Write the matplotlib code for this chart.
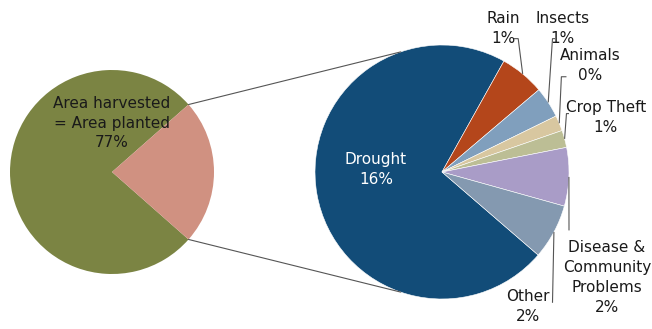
import matplotlib
matplotlib.use("Agg")
import numpy as np
import matplotlib.pyplot as plt
from matplotlib.patches import ConnectionPatch

W, H = 652, 329

# left pie: share of area planted that was harvested
AREA_LABELS = ["Area harvested\n= Area planted", "Area lost"]
AREA_SHARES = [77, 23]
AREA_PCT = ["77%", ""]

# right pie: breakdown of the lost area by cause
CAUSES = ["Drought", "Rain", "Insects", "Animals", "Crop Theft",
          "Disease &\nCommunity\nProblems", "Other"]
CAUSE_SHARES = [16.4, 1.3, 0.9, 0.45, 0.5, 1.7, 1.6]
CAUSE_PCT = ["16%", "1%", "1%", "0%", "1%", "2%", "2%"]

AREA_COLORS = ["#7b8443", "#d09181"]
CAUSE_COLORS = ["#124c78", "#b4461b", "#809fbd", "#d8c7a0",
                "#bcbe95", "#a99cc7", "#8499b0"]

INK = "#1a1a1a"
LEADER = "#555555"
FONT = "DejaVu Sans"
FS = 11
LS = 1.4


def pie_axes(fig, cx, cy, r, half):
    """Axes whose data unit equals r pixels, centred on pixel (cx, cy)."""
    side = 2 * half * r
    ax = fig.add_axes([(cx - half * r) / W, (H - cy - half * r) / H,
                       side / W, side / H])
    ax.set_xlim(-half, half)
    ax.set_ylim(-half, half)
    ax.set_aspect("equal")
    ax.axis("off")
    return ax


fig = plt.figure(figsize=(W / 100, H / 100), dpi=100, facecolor="white")

ax1 = pie_axes(fig, 112, 172, 102, 1.1)
ax2 = pie_axes(fig, 442, 172, 127, 1.75)

lost_frac = AREA_SHARES[1] / sum(AREA_SHARES)
w1, _ = ax1.pie(AREA_SHARES, colors=AREA_COLORS, radius=1,
                startangle=180 * lost_frac, counterclock=True,
                wedgeprops=dict(linewidth=0))
ax1.set_xlim(-1.1, 1.1)
ax1.set_ylim(-1.1, 1.1)
ax1.text(0, 0.48, f"{AREA_LABELS[0]}\n{AREA_PCT[0]}", ha="center", va="center",
         fontsize=FS, color=INK, family=FONT, linespacing=LS)

drought_frac = CAUSE_SHARES[0] / sum(CAUSE_SHARES)
w2, _ = ax2.pie(CAUSE_SHARES, colors=CAUSE_COLORS, radius=1,
                startangle=10 - 180 * (1 - drought_frac), counterclock=False,
                wedgeprops=dict(linewidth=0.4, edgecolor="white"))
ax2.set_xlim(-1.75, 1.75)
ax2.set_ylim(-1.75, 1.75)
ax2.text(-0.52, 0.02, f"{CAUSES[0]}\n{CAUSE_PCT[0]}", ha="center", va="center",
         fontsize=FS, color="white", family=FONT, linespacing=LS)

# outside labels: (text centre, leader elbow, leader tail)
LABEL_POS = {
    "Rain": ((0.48, 1.13), (0.60, 1.05), (0.56, 1.05)),
    "Insects": ((0.95, 1.13), (0.87, 1.05), (0.89, 1.05)),
    "Animals": ((1.17, 0.84), (0.94, 0.75), (0.98, 0.75)),
    "Crop Theft": ((1.29, 0.43), (0.98, 0.46), (1.00, 0.46)),
    "Disease &\nCommunity\nProblems": ((1.30, -0.83), (1.00, -0.46), (1.00, -0.46)),
    "Other": ((0.68, -1.06), (0.87, -1.03), (0.87, -1.03)),
}

for wedge, name, pct in zip(w2[1:], CAUSES[1:], CAUSE_PCT[1:]):
    (tx, ty), (ex, ey), (lx, ly) = LABEL_POS[name]
    mid = np.deg2rad((wedge.theta1 + wedge.theta2) / 2)
    px, py = np.cos(mid), np.sin(mid)
    ax2.plot([px, ex, lx], [py, ey, ly], color=LEADER, lw=0.8,
             solid_capstyle="butt", clip_on=False)
    ax2.text(tx, ty, f"{name}\n{pct}", ha="center", va="center",
             fontsize=FS, color=INK, family=FONT, linespacing=LS,
             clip_on=False)

# connector lines from the lost wedge to the breakdown pie
lost = w1[1]
for ang1, ang2 in [(lost.theta2, 109), (lost.theta1, -109)]:
    a1, a2 = np.deg2rad(ang1), np.deg2rad(ang2)
    con = ConnectionPatch(xyA=(np.cos(a2), np.sin(a2)), coordsA=ax2.transData,
                          xyB=(np.cos(a1), np.sin(a1)), coordsB=ax1.transData,
                          color=LEADER, lw=0.8)
    fig.add_artist(con)

fig.savefig("out.png", dpi=100, facecolor="white")
